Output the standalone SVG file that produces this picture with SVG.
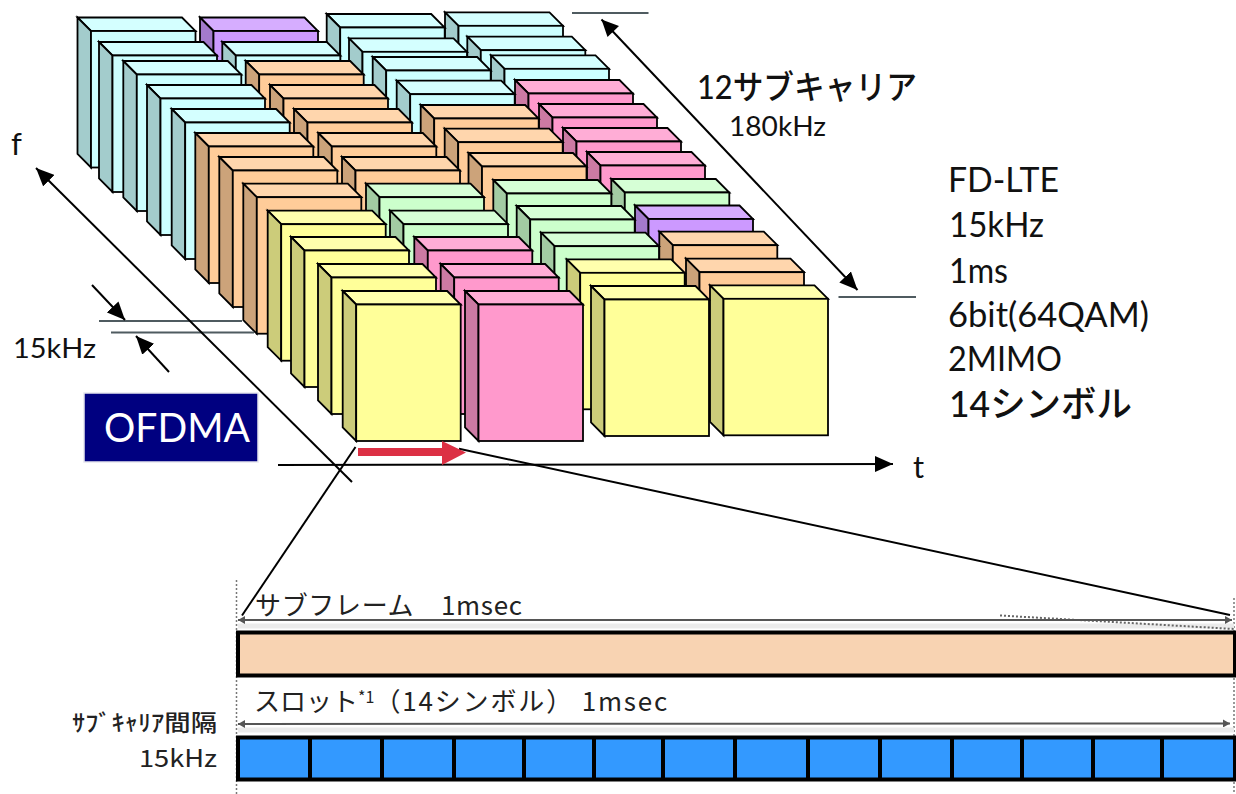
<svg xmlns="http://www.w3.org/2000/svg" xmlns:xlink="http://www.w3.org/1999/xlink" width="1236" height="794" viewBox="0 0 1236 794">
<style>
text{font-family:"Lato","Noto Sans CJK JP",sans-serif;fill:#111}
.jp{font-family:"Noto Sans CJK JP",sans-serif;fill:#222}
.b polygon,.b rect{stroke:#000;stroke-width:1.8;stroke-linejoin:miter}
.c{--f:#CCFFFF;--t:#D4FFFF;--l:#A3CCCC}
.p{--f:#CC99FF;--t:#D6ADFF;--l:#A37ACC}
.o{--f:#FFCC99;--t:#FFD6AD;--l:#CCA37A}
.y{--f:#FFFF99;--t:#FFFFAD;--l:#CCCC7A}
.k{--f:#FF99CC;--t:#FFADD6;--l:#CC7AA3}
.g{--f:#CCFFCC;--t:#D6FFD6;--l:#A3CCA3}
.ln{stroke:#000;stroke-width:2;fill:none}
.gy{stroke:#4F5B60;stroke-width:2;fill:none}
.dim{stroke:#555;stroke-width:2;fill:none}
.dot{stroke:#777;stroke-width:1.5;stroke-dasharray:2 2;fill:none}
.bar{stroke:#000;stroke-width:4}
</style>
<defs>
<g id="box" class="b">
<polygon points="0,0 104.5,0 118,13.5 13.5,13.5" style="fill:var(--t)"/>
<polygon points="0,0 13.5,13.5 13.5,150 0,136.5" style="fill:var(--l)"/>
<rect x="13.5" y="13.5" width="104.5" height="136.5" style="fill:var(--f)"/>
</g>
<marker id="ah" markerUnits="userSpaceOnUse" markerWidth="20" markerHeight="16" refX="18" refY="8" orient="auto"><path d="M0,0L18,8L0,16z" fill="#000"/></marker>
<marker id="ahs" markerUnits="userSpaceOnUse" markerWidth="8" markerHeight="8" refX="7" refY="4" orient="auto-start-reverse"><path d="M0,0L7,4L0,8z" fill="#555"/></marker>
</defs>
<rect width="1236" height="794" fill="#fff"/>
<g id="blocks">
<use href="#box" class="c" x="445" y="12.3"/>
<use href="#box" class="c" x="326.7" y="14"/>
<use href="#box" class="c" x="77.5" y="17.5"/>
<use href="#box" class="p" x="200" y="17.5"/>
<use href="#box" class="c" x="467.3" y="36.7"/>
<use href="#box" class="c" x="349" y="38.3"/>
<use href="#box" class="c" x="99" y="42"/>
<use href="#box" class="c" x="222.3" y="42"/>
<use href="#box" class="c" x="491" y="55.3"/>
<use href="#box" class="c" x="372.7" y="57"/>
<use href="#box" class="c" x="123.3" y="61"/>
<use href="#box" class="o" x="245.7" y="61"/>
<use href="#box" class="k" x="515" y="80"/>
<use href="#box" class="c" x="396.7" y="80.7"/>
<use href="#box" class="c" x="147" y="85"/>
<use href="#box" class="o" x="270" y="85"/>
<use href="#box" class="k" x="539" y="104"/>
<use href="#box" class="o" x="420.7" y="105"/>
<use href="#box" class="c" x="171.7" y="109"/>
<use href="#box" class="o" x="294" y="109"/>
<use href="#box" class="k" x="563" y="128"/>
<use href="#box" class="o" x="444.7" y="128.7"/>
<use href="#box" class="o" x="195.3" y="133"/>
<use href="#box" class="o" x="318.3" y="133"/>
<use href="#box" class="k" x="587" y="152"/>
<use href="#box" class="o" x="468.5" y="153"/>
<use href="#box" class="o" x="219.3" y="157"/>
<use href="#box" class="o" x="342" y="157"/>
<use href="#box" class="g" x="611.3" y="179"/>
<use href="#box" class="g" x="493.3" y="180"/>
<use href="#box" class="o" x="243.3" y="183.7"/>
<use href="#box" class="g" x="366" y="183.7"/>
<use href="#box" class="p" x="635" y="205.5"/>
<use href="#box" class="g" x="516.7" y="206"/>
<use href="#box" class="y" x="267.7" y="210.7"/>
<use href="#box" class="g" x="390" y="210.7"/>
<use href="#box" class="o" x="659.3" y="231.7"/>
<use href="#box" class="g" x="541" y="232.7"/>
<use href="#box" class="y" x="291" y="237"/>
<use href="#box" class="k" x="414.3" y="237"/>
<use href="#box" class="o" x="686" y="258.7"/>
<use href="#box" class="y" x="566.7" y="259.3"/>
<use href="#box" class="y" x="318" y="264"/>
<use href="#box" class="k" x="440.7" y="264"/>
<use href="#box" class="y" x="710" y="285.3"/>
<use href="#box" class="y" x="591" y="286"/>
<use href="#box" class="y" x="342.7" y="291"/>
<use href="#box" class="k" x="465" y="291"/>
</g>
<g id="connectors">
<line class="gy" x1="572" y1="13" x2="648.5" y2="13"/>
<line class="gy" x1="838.5" y1="297" x2="916" y2="297"/>
<line class="gy" x1="99" y1="321" x2="242" y2="321"/>
<line class="gy" x1="111" y1="332.5" x2="254" y2="332.5"/>
<line class="ln" x1="601.5" y1="19.5" x2="857.5" y2="290" marker-end="url(#ah)"/>
<path d="M601.5,19.5L619,26L607.5,37z" fill="#000"/>
<line class="ln" x1="352" y1="482" x2="36" y2="168" marker-end="url(#ah)"/>
<line class="ln" x1="278" y1="465" x2="893" y2="464" marker-end="url(#ah)"/>
<line class="ln" x1="92" y1="285" x2="125" y2="320" marker-end="url(#ah)"/>
<line class="ln" x1="169" y1="372" x2="136" y2="336" marker-end="url(#ah)"/>
<line class="ln" x1="355.5" y1="447" x2="242" y2="615.5"/>
<line class="ln" x1="459" y1="448.7" x2="1230" y2="615"/>
<path d="M358,448H442V441L466,452.5L442,465V456H358z" fill="#DC3044"/>
<line class="dot" x1="236.5" y1="580" x2="236.5" y2="794"/>
<line class="dot" x1="1234" y1="598" x2="1234" y2="794"/>
<path d="M238,626H1234M238,730H1234" stroke="#EBEBEB" stroke-width="5" fill="none"/>
<path class="dot" d="M1000,615.5L1234,629" style="stroke:#666;stroke-width:2"/>
<line class="dim" x1="238" y1="620" x2="1232" y2="620" marker-start="url(#ahs)" marker-end="url(#ahs)"/>
<line class="dim" x1="238" y1="724" x2="1230" y2="723.5" marker-start="url(#ahs)" marker-end="url(#ahs)"/>
</g>
<g id="bars">
<rect class="bar" x="238" y="632.5" width="997" height="43" fill="#F8D3B2"/>
<rect class="bar" x="238" y="737.5" width="997" height="42" fill="#3399FF"/>
<path class="bar" fill="none" d="M310,737V780M382,737V780M454,737V780M524,737V780M594,737V780M663,737V780M735,737V780M808,737V780M880,737V780M952,737V780M1022,737V780M1093,737V780M1162,737V780"/>
</g>
<rect x="84" y="393" width="174" height="69" fill="#000080" stroke="#E6E6EE" stroke-width="1.5"/>
<text x="104" y="442" font-size="40" textLength="146" lengthAdjust="spacingAndGlyphs" style="fill:#fff">OFDMA</text>
<text x="11" y="155" font-size="31">f</text>
<text x="913" y="478" font-size="31">t</text>
<text x="13" y="358" font-size="27" textLength="83" lengthAdjust="spacingAndGlyphs">15kHz</text>
<text x="697" y="99" font-size="33" font-weight="500" textLength="220" lengthAdjust="spacingAndGlyphs">12サブキャリア</text>
<text x="729" y="136" font-size="27" textLength="97" lengthAdjust="spacingAndGlyphs">180kHz</text>
<g font-size="34">
<text x="948" y="192" textLength="111" lengthAdjust="spacingAndGlyphs">FD-LTE</text>
<text x="949" y="237" textLength="95" lengthAdjust="spacingAndGlyphs">15kHz</text>
<text x="949" y="283" textLength="59" lengthAdjust="spacingAndGlyphs">1ms</text>
<text x="948" y="327" textLength="201" lengthAdjust="spacingAndGlyphs">6bit(64QAM)</text>
<text x="948" y="371" textLength="114" lengthAdjust="spacingAndGlyphs">2MIMO</text>
<text x="949" y="417" font-size="36" font-weight="500" textLength="183" lengthAdjust="spacingAndGlyphs">14シンボル</text>
</g>
<text class="jp" x="255" y="615" font-size="26" textLength="267" lengthAdjust="spacing">サブフレーム　1msec</text>
<text class="jp" x="254" y="711" font-size="26">スロット<tspan font-size="16" dy="-8">*1</tspan><tspan dy="8" textLength="293" lengthAdjust="spacing">（14シンボル） 1msec</tspan></text>
<text class="jp" x="72" y="731" font-size="23" font-weight="500" textLength="145" lengthAdjust="spacingAndGlyphs">ｻﾌﾞｷｬﾘｱ間隔</text>
<text class="jp" x="139" y="767" font-size="24" textLength="78" lengthAdjust="spacingAndGlyphs">15kHz</text>
</svg>
